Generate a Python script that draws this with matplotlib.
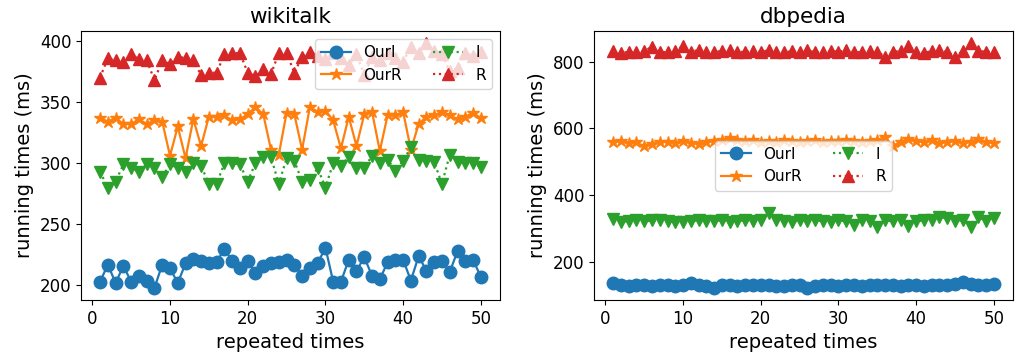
import matplotlib
matplotlib.use("Agg")
import matplotlib.pyplot as plt

runs = list(range(1, 51))

# wikitalk
wiki_ourI = [203, 217, 202, 216, 203, 208, 204, 198, 217, 214, 202, 218, 222, 220, 218, 219, 230, 220, 214, 220,
             210, 216, 218, 219, 221, 217, 208, 214, 218, 231, 203, 203, 221, 212, 223, 208, 205, 219, 221, 221,
             204, 224, 212, 219, 220, 211, 228, 220, 221, 207]
wiki_ourR = [337, 334, 337, 332, 332, 336, 332, 335, 334, 306, 330, 304, 336, 314, 338, 338, 339, 335, 336, 340,
             346, 340, 311, 307, 341, 340, 311, 346, 342, 343, 335, 312, 338, 314, 340, 342, 310, 339, 339, 342,
             311, 332, 338, 339, 342, 339, 336, 338, 341, 337]
wiki_I = [293, 280, 285, 299, 296, 293, 299, 296, 289, 299, 296, 293, 300, 298, 283, 283, 300, 300, 299, 285,
          300, 305, 305, 283, 304, 302, 285, 286, 296, 280, 300, 298, 305, 296, 296, 306, 300, 303, 294, 302,
          313, 303, 302, 301, 283, 307, 301, 300, 300, 297]
wiki_R = [370, 386, 384, 383, 389, 385, 384, 368, 384, 381, 387, 386, 384, 372, 374, 374, 389, 390, 390, 374,
          371, 377, 373, 390, 390, 374, 387, 391, 388, 385, 390, 386, 380, 389, 372, 387, 384, 390, 386, 383,
          395, 390, 398, 392, 389, 375, 378, 390, 388, 391]

# dbpedia
db_ourI = [136, 130, 129, 131, 130, 129, 131, 130, 129, 131, 137, 130, 128, 122, 130, 131, 129, 130, 132, 131,
           130, 129, 128, 130, 131, 122, 129, 131, 130, 129, 131, 130, 128, 130, 131, 132, 130, 129, 131, 130,
           129, 130, 131, 132, 133, 140, 134, 131, 132, 133]
db_ourR = [559, 562, 556, 558, 546, 552, 558, 560, 555, 561, 557, 553, 560, 562, 566, 572, 566, 562, 565, 560,
           562, 558, 565, 563, 560, 562, 565, 560, 562, 561, 564, 562, 560, 563, 565, 574, 548, 560, 568, 562,
           558, 565, 555, 560, 562, 557, 560, 568, 560, 555]
db_I = [328, 320, 322, 325, 321, 324, 326, 322, 320, 318, 323, 324, 321, 322, 325, 320, 322, 324, 322, 325,
        345, 326, 322, 320, 324, 322, 325, 322, 320, 324, 322, 310, 325, 322, 305, 324, 322, 326, 306, 322,
        324, 326, 335, 330, 322, 325, 305, 335, 322, 330]
db_R = [832, 826, 830, 828, 832, 845, 830, 828, 832, 848, 830, 835, 828, 830, 832, 834, 830, 829, 832, 830,
        834, 830, 828, 832, 830, 834, 828, 830, 832, 830, 834, 830, 828, 832, 830, 815, 830, 832, 848, 830,
        826, 832, 835, 830, 815, 832, 855, 832, 830, 830]

labels = ["OurI", "OurR", "I", "R"]
styles = [dict(ls="-", marker="o"), dict(ls="-", marker="*"), dict(ls=":", marker="v"), dict(ls=":", marker="^")]
colors = ["#1f77b4", "#ff7f0e", "#2ca02c", "#d62728"]

plt.rcParams["font.family"] = ["DejaVu Sans"]
plt.rcParams["font.size"] = 12

fig, axes = plt.subplots(1, 2, figsize=(10.18, 3.62), dpi=100)
fig.subplots_adjust(left=0.0796, right=0.995, top=0.914, bottom=0.171, wspace=0.225)

panels = [("wikitalk", [wiki_ourI, wiki_ourR, wiki_I, wiki_R], "upper right"),
          ("dbpedia", [db_ourI, db_ourR, db_I, db_R], "center")]

for ax, (title, series, loc) in zip(axes, panels):
    for vals, lab, st, c in zip(series, labels, styles, colors):
        ax.plot(runs, vals, label=lab, color=c, markersize=9, linewidth=1.6, **st)
    ax.set_title(title, fontsize=15.5)
    ax.set_xlabel("repeated times", fontsize=14)
    ax.set_ylabel("running times (ms)", fontsize=14)
    ax.set_xticks([0, 10, 20, 30, 40, 50])
    ax.tick_params(labelsize=12)
    ax.legend(loc=loc, ncol=2, fontsize=11)

fig.savefig("out.png", dpi=100)
